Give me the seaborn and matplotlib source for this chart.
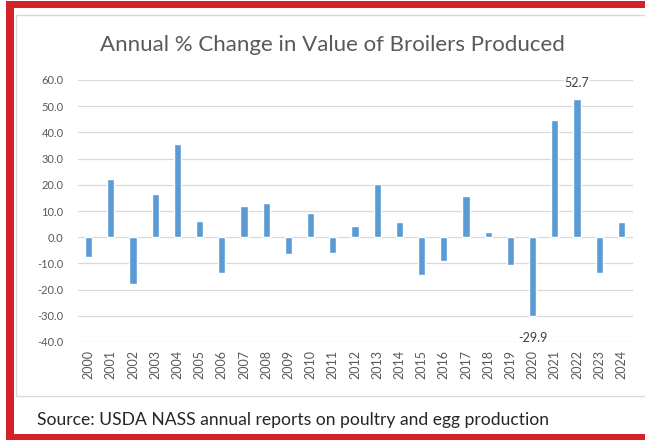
import pandas as pd
import seaborn as sns
import matplotlib.pyplot as plt
from matplotlib.patches import Rectangle
from matplotlib.ticker import FormatStrFormatter

years = [str(y) for y in range(2000, 2025)]
pct_change = [-7.7, 22.2, -17.9, 16.5, 35.6, 6.3, -13.6, 11.8, 13.2, -6.3,
              9.3, -6.2, 4.2, 20.3, 5.8, -14.6, -9.0, 15.8, 1.8, -10.6,
              -29.9, 44.7, 52.7, -13.8, 5.8]
labelled = {"2020": "-29.9", "2022": "52.7"}

df = pd.DataFrame({"Year": years, "Change": pct_change})

sns.set_style("whitegrid", {"grid.color": "#D9D9D9", "axes.edgecolor": "#D9D9D9"})
plt.rcParams['font.family'] = ['Lato', 'DejaVu Sans']

fig = plt.figure(figsize=(6.45, 4.4), dpi=100)
W, H = 645, 440

# frame: red outer border and light gray chart border
def px_rect(x0, y0, x1, y1, **kw):
    fig.patches.append(Rectangle((x0 / W, 1 - y1 / H), (x1 - x0) / W, (y1 - y0) / H,
                                 transform=fig.transFigure, **kw))

px_rect(16, 15, 700, 396, fill=False, edgecolor="#D9D9D9", linewidth=1)
px_rect(6, 1, 645, 8, facecolor="#D42027", edgecolor="none")
px_rect(6, 1, 14, 440, facecolor="#D42027", edgecolor="none")
px_rect(6, 434, 645, 440, facecolor="#D42027", edgecolor="none")

ax = fig.add_axes([77.5 / W, 1 - 342 / H, (632.5 - 77.5) / W, (342 - 80) / H])
sns.barplot(x="Year", y="Change", data=df, color="#5B9BD5", saturation=1,
            width=0.32, ax=ax)

ax.set_ylim(-40, 60)
ax.set_yticks(range(-40, 61, 10))
ax.yaxis.set_major_formatter(FormatStrFormatter("%.1f"))
ax.grid(axis="x", visible=False)
ax.grid(axis="y", color="#D9D9D9", linewidth=0.9)
ax.set_axisbelow(True)
ax.set(xlabel="", ylabel="")
ax.tick_params(axis="y", labelsize=8, labelcolor="#595959", pad=10, length=0)
ax.tick_params(axis="x", labelsize=9, labelcolor="#595959", pad=6, length=0,
               labelrotation=90)
sns.despine(left=True, bottom=True)

bars = ax.containers[0]
box = dict(facecolor="white", edgecolor="none", pad=0.5)
ax.bar_label(bars, labels=[labelled.get(y, "") if v > 0 else "" for y, v in zip(years, pct_change)],
             padding=7, fontsize=9, color="#404040", bbox=box)
ax.bar_label(bars, labels=[labelled.get(y, "") if v < 0 else "" for y, v in zip(years, pct_change)],
             padding=12, fontsize=9, color="#404040", bbox=box)

fig.text(332 / W, 1 - 45 / H, "Annual % Change in Value of Broilers Produced",
         ha="center", va="center", fontsize=16, color="#595959")
fig.text(37 / W, 1 - 420 / H,
         "Source: USDA NASS annual reports on poultry and egg production",
         ha="left", va="center", fontsize=12.6, color="#262626")

fig.savefig("out.png", dpi=100)
